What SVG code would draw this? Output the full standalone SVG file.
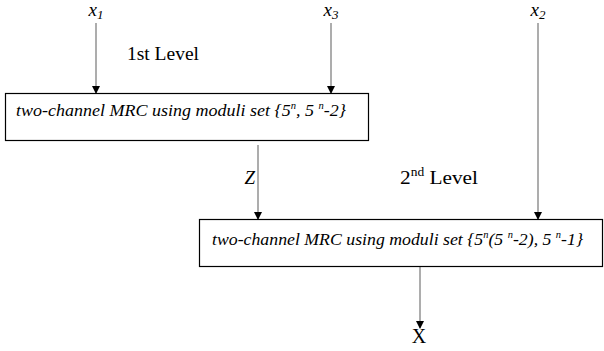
<svg xmlns="http://www.w3.org/2000/svg" width="604" height="351" viewBox="0 0 604 351">
<style>
.t{font-family:"Liberation Serif","Times New Roman",serif;fill:#000}
.it{font-style:italic}
.box{fill:#fff;stroke:#000;stroke-width:1.2}
.ln{stroke:#999;stroke-width:1.6;fill:none}
</style>
<defs>
<marker id="ah" markerWidth="8" markerHeight="8" refX="7" refY="4" orient="auto" markerUnits="userSpaceOnUse">
<path d="M0,0 L8,4 L0,8 z" fill="#000"/>
</marker>
</defs>
<rect width="604" height="351" fill="#fff"/>
<g id="connectors">
<line class="ln" x1="96" y1="23" x2="96" y2="93" marker-end="url(#ah)"/>
<line class="ln" x1="331" y1="23" x2="331" y2="93" marker-end="url(#ah)"/>
<line class="ln" x1="538" y1="23" x2="538" y2="219" marker-end="url(#ah)"/>
<line class="ln" x1="258" y1="145" x2="258" y2="219" marker-end="url(#ah)"/>
<line class="ln" x1="420" y1="267" x2="420" y2="328" marker-end="url(#ah)"/>
</g>
<g id="x1"><text class="t it" x="96" y="16" font-size="19" text-anchor="middle">x<tspan font-size="13" dy="3">1</tspan></text></g>
<g id="x3"><text class="t it" x="331" y="16" font-size="19" text-anchor="middle">x<tspan font-size="13" dy="3">3</tspan></text></g>
<g id="x2"><text class="t it" x="538" y="16" font-size="19" text-anchor="middle">x<tspan font-size="13" dy="3">2</tspan></text></g>
<g id="level1"><text class="t" x="127" y="60" font-size="19" textLength="72" lengthAdjust="spacingAndGlyphs">1st Level</text></g>
<g id="level2"><text class="t" x="400" y="184" font-size="19" textLength="78" lengthAdjust="spacingAndGlyphs">2<tspan font-size="12" dy="-8">nd</tspan><tspan dy="8"> Level</tspan></text></g>
<g id="z"><text class="t it" x="255" y="184" font-size="19" text-anchor="end">Z</text></g>
<g id="box1">
<rect class="box" x="5.5" y="93.5" width="363" height="47"/>
<text class="t it" x="16" y="116" font-size="17" textLength="330" lengthAdjust="spacingAndGlyphs">two-channel MRC using moduli set {5<tspan font-size="10" dy="-7">n</tspan><tspan dy="7">, 5 </tspan><tspan font-size="10" dy="-7">n</tspan><tspan dy="7">-2}</tspan></text>
</g>
<g id="box2">
<rect class="box" x="199.5" y="219.5" width="403" height="47"/>
<text class="t it" x="212" y="245" font-size="17" textLength="371" lengthAdjust="spacingAndGlyphs">two-channel MRC using moduli set {5<tspan font-size="10" dy="-7">n</tspan><tspan dy="7">(5 </tspan><tspan font-size="10" dy="-7">n</tspan><tspan dy="7">-2), 5 </tspan><tspan font-size="10" dy="-7">n</tspan><tspan dy="7">-1}</tspan></text>
</g>
<g id="out"><text class="t" x="419" y="343" font-size="20" text-anchor="middle">X</text></g>
</svg>
